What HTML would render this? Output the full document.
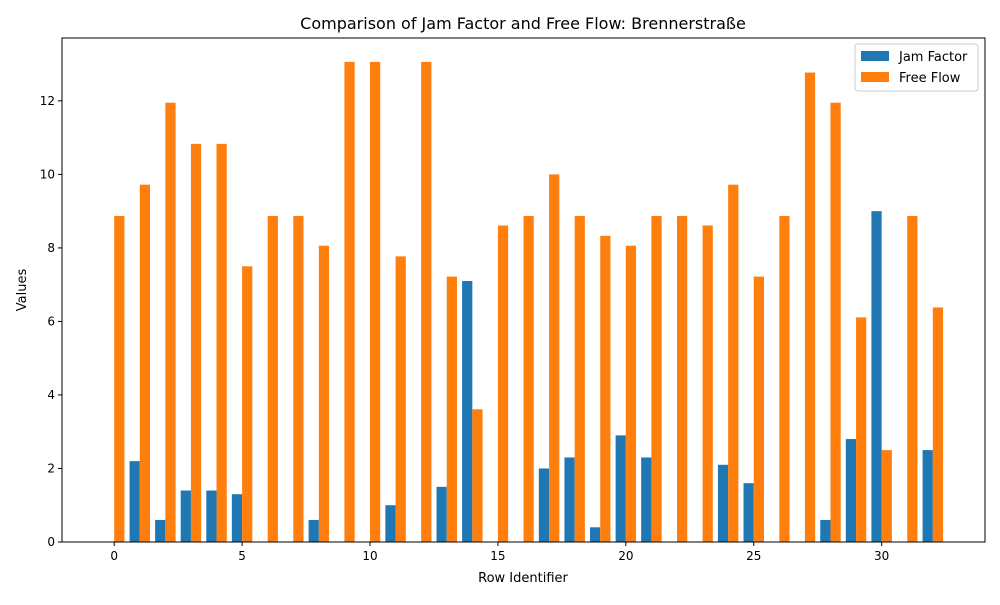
<!DOCTYPE html>
<html><head><meta charset="utf-8"><style>
body{margin:0;background:#fff;font-family:"Liberation Sans","DejaVu Sans",sans-serif;}
svg text{font-family:"DejaVu Sans","Liberation Sans",sans-serif;fill:#000;}
</style></head><body>
<svg id="chart" width="1000" height="600">
<rect width="1000" height="600" fill="#fff"/>
<g id="bars"></g>
<g id="axes"></g>
<text x="523" y="29" font-size="16" text-anchor="middle">Comparison of Jam Factor and Free Flow: Brennerstraße</text>
<text x="523" y="582" font-size="13" text-anchor="middle">Row Identifier</text>
<text x="26" y="290" font-size="13" text-anchor="middle" transform="rotate(-90 26 290)">Values</text>
<g>
<rect x="855" y="44" width="123" height="47" fill="#fff" stroke="#ccc" rx="3"/>
<g><rect x="861" y="51" width="28" height="10" fill="#1f77b4"/><text x="899" y="61" font-size="13">Jam Factor</text></g>
<g><rect x="861" y="72" width="28" height="10" fill="#ff7f0e"/><text x="899" y="82" font-size="13">Free Flow</text></g>
</g>
</svg>
<script>
const categories=[...Array(33).keys()];
const jamFactor=[0,2.2,0.6,1.4,1.4,1.3,0,0,0.6,0,0,1.0,0,1.5,7.1,0,0,2.0,2.3,0.4,2.9,2.3,0,0,2.1,1.6,0,0,0.6,2.8,9.0,0,2.5];
const freeFlow=[8.87,9.72,11.95,10.83,10.83,7.5,8.87,8.87,8.06,13.06,13.06,7.77,13.06,7.22,3.61,8.61,8.87,10.0,8.87,8.33,8.06,8.87,8.87,8.61,9.72,7.22,8.87,12.77,11.95,6.11,2.5,8.87,6.38];
const xTicks=[0,5,10,15,20,25,30];
const yTicks=[0,2,4,6,8,10,12];
const L=62,R=985,T=38,B=542;
const xmin=-2.04,xmax=34.04,ymax=13.71;
const X=v=>L+(v-xmin)/(xmax-xmin)*(R-L);
const Y=v=>B-v/ymax*(B-T);
const NS="http://www.w3.org/2000/svg";
const bars=document.getElementById('bars'),axes=document.getElementById('axes');
function mk(tag,attrs,parent){const e=document.createElementNS(NS,tag);for(const k in attrs)e.setAttribute(k,attrs[k]);parent.appendChild(e);return e;}
const w=0.4;
categories.forEach((c,i)=>{
 const a=mk('rect',{x:X(c-0.4),y:Y(jamFactor[i]),width:X(w)-X(0),height:B-Y(jamFactor[i]),fill:'#1f77b4'},bars);
 
 
 const b=mk('rect',{x:X(c),y:Y(freeFlow[i]),width:X(w)-X(0),height:B-Y(freeFlow[i]),fill:'#ff7f0e'},bars);
 
 
});
mk('rect',{x:L,y:T,width:R-L,height:B-T,fill:'none',stroke:'#000','stroke-width':1},axes);
xTicks.forEach(t=>{
 mk('line',{x1:X(t),x2:X(t),y1:B,y2:B+4,stroke:'#000'},axes);
 const tx=mk('text',{x:X(t),y:B+18,'font-size':12,'text-anchor':'middle'},axes);tx.textContent=t;
 
 
});
yTicks.forEach(t=>{
 mk('line',{x1:L-4,x2:L,y1:Y(t),y2:Y(t),stroke:'#000'},axes);
 const tx=mk('text',{x:L-7,y:Y(t)+4,'font-size':12,'text-anchor':'end'},axes);tx.textContent=t;
 
 
});
</script>
</body></html>
